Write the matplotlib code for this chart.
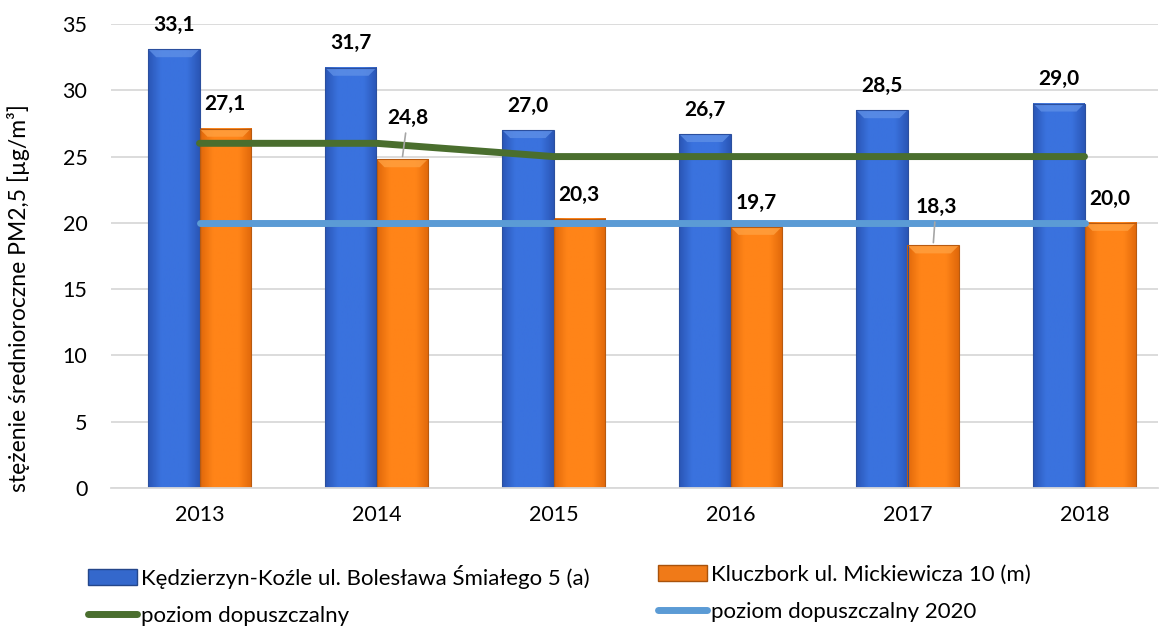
import numpy as np
import matplotlib
matplotlib.use("Agg")
import matplotlib.pyplot as plt
from matplotlib.patches import Rectangle, Polygon, Patch
from matplotlib.lines import Line2D
from matplotlib.colors import to_rgb

# ---- data ----
years = ["2013", "2014", "2015", "2016", "2017", "2018"]
kedzierzyn = [33.1, 31.7, 27.0, 26.7, 28.5, 29.0]
kluczbork = [27.1, 24.8, 20.3, 19.7, 18.3, 20.0]
poziom = [26, 26, 25, 25, 25, 25]
poziom_2020 = [20, 20, 20, 20, 20, 20]

series_names = ["Kędzierzyn-Koźle ul. Bolesława Śmiałego 5 (a)",
                "Kluczbork ul. Mickiewicza 10 (m)",
                "poziom dopuszczalny",
                "poziom dopuszczalny 2020"]
y_label = "stężenie średnioroczne PM2,5 [µg/m³]"
y_ticks = [0, 5, 10, 15, 20, 25, 30, 35]

plt.rcParams['font.family'] = ['Lato', 'DejaVu Sans']

W, H = 1159, 626
fig = plt.figure(figsize=(W / 100, H / 100), dpi=100)
ax_left, ax_right, ax_top, ax_bot = 111, 1158, 24, 488
ax = fig.add_axes([ax_left / W, (H - ax_bot) / H, (ax_right - ax_left) / W, (ax_bot - ax_top) / H])

px_per_cat = 177.0
x = np.arange(len(years))
bw = 0.29

BLUE_MAIN, BLUE_EDGE, BLUE_LIGHT, BLUE_LINE = "#3A72DE", "#2A56B6", "#5E8FE6", "#2B4F9E"
OR_MAIN, OR_EDGE, OR_LIGHT, OR_LINE = "#FF8418", "#E0680A", "#FFA040", "#B85A10"

FS = 15.5
FS_LAB = 15


def grad_bar(ax, xc, w, h, cmain, cedge, clight, cline):
    n = 64
    t = np.linspace(0, 1, n)
    prof = np.clip(np.minimum(t, 1 - t) / 0.25, 0, 1)
    m = np.array(to_rgb(cmain)); e = np.array(to_rgb(cedge))
    rgb = e[None, :] * (1 - prof[:, None]) + m[None, :] * prof[:, None]
    ax.imshow(rgb[None, :, :], extent=(xc - w / 2, xc + w / 2, 0, h), aspect='auto',
              zorder=2, interpolation='bilinear')
    dx = 8 / px_per_cat
    dy = 8 / 13.25
    x0, x1 = xc - w / 2, xc + w / 2
    ax.add_patch(Polygon([(x0, h), (x1, h), (x1 - dx, h - dy), (x0 + dx, h - dy)],
                         closed=True, facecolor=clight, edgecolor='none', alpha=0.8, zorder=2.1))
    ax.add_patch(Rectangle((x0, 0), w, h, facecolor='none', edgecolor=cline, lw=0.8, zorder=2.2))


for i in range(len(years)):
    grad_bar(ax, x[i] - bw / 2, bw, kedzierzyn[i], BLUE_MAIN, BLUE_EDGE, BLUE_LIGHT, BLUE_LINE)
    grad_bar(ax, x[i] + bw / 2, bw, kluczbork[i], OR_MAIN, OR_EDGE, OR_LIGHT, OR_LINE)

GREEN = "#4A6E2E"
LBLUE = "#5B9BD5"
ax.plot(x, poziom, color=GREEN, lw=5, solid_capstyle='round', zorder=4)
ax.plot(x, poziom_2020, color=LBLUE, lw=5, solid_capstyle='round', zorder=4)

# data labels
lab_kw = dict(ha='center', va='center', fontsize=FS_LAB, fontweight='bold', color='black', zorder=6)
for i in range(len(years)):
    ax.annotate(f"{kedzierzyn[i]:.1f}".replace('.', ','), xy=(x[i] - bw / 2, kedzierzyn[i]),
                xytext=(0, 17.5), textcoords='offset points', **lab_kw)
leader = {1: (4, 30), 4: (2, 28)}
for i in range(len(years)):
    txt = f"{kluczbork[i]:.1f}".replace('.', ',')
    if i in leader:
        ax.annotate(txt, xy=(x[i] + bw / 2, kluczbork[i]), xytext=leader[i],
                    textcoords='offset points',
                    arrowprops=dict(arrowstyle='-', color='#A6A6A6', lw=1.2, shrinkA=2, shrinkB=2),
                    **lab_kw)
    else:
        ax.annotate(txt, xy=(x[i] + bw / 2, kluczbork[i]), xytext=(0, 17.5),
                    textcoords='offset points', **lab_kw)

ax.set_xlim(-0.5, -0.5 + (ax_right - ax_left) / px_per_cat)
ax.set_ylim(0, 35)
ax.set_yticks(y_ticks)
ax.set_yticklabels([str(v) for v in y_ticks])
ax.set_xticks(x)
ax.set_xticklabels(years)
ax.tick_params(axis='y', length=0, pad=17, labelsize=FS, colors='#000000')
ax.tick_params(axis='x', length=0, pad=12, labelsize=FS, colors='#000000')
ax.yaxis.grid(True, color='#D9D9D9', lw=1.3, zorder=0)
ax.set_axisbelow(True)
for s in ['left', 'right', 'top']:
    ax.spines[s].set_visible(False)
ax.spines['bottom'].set_color('#D9D9D9')
ax.spines['bottom'].set_linewidth(1.3)

fig.text(19 / W, (H - 298) / H, y_label, rotation=90, ha='center', va='center', fontsize=16.5)

# legends
h_blue = Patch(facecolor="#3468CC", edgecolor="#24468A", lw=1)
h_or = Patch(facecolor="#F07A18", edgecolor="#A8520C", lw=1)
h_green = Line2D([0], [0], color=GREEN, lw=5, solid_capstyle='round')
h_lblue = Line2D([0], [0], color=LBLUE, lw=5, solid_capstyle='round')
leg_kw = dict(loc='upper left', frameon=False, fontsize=16, handlelength=2.2, handleheight=0.75,
              handletextpad=0.2, borderpad=0, borderaxespad=0, labelspacing=0.75)
leg1 = fig.legend([h_blue, h_green], [series_names[0], series_names[2]],
                  bbox_to_anchor=(88 / W, (H - 565) / H), **leg_kw)
leg2 = fig.legend([h_or, h_lblue], [series_names[1], series_names[3]],
                  bbox_to_anchor=(658 / W, (H - 565) / H), **leg_kw)

fig.savefig("out.png", dpi=100)
